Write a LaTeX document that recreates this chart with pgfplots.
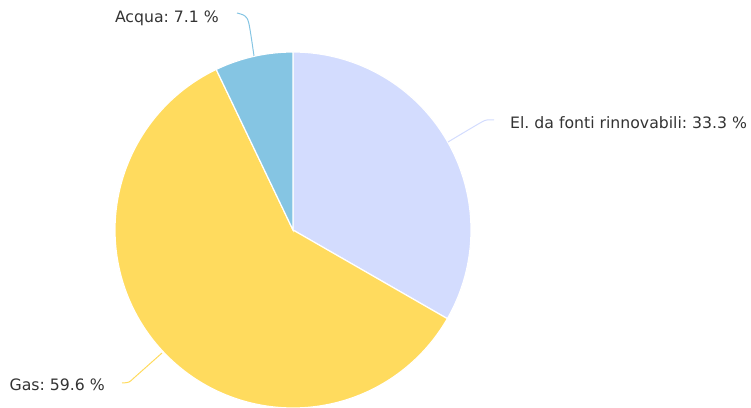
\documentclass[border=0pt]{standalone}
\usepackage{pgfplots}
\pgfplotsset{compat=1.18}
\usepackage{fontspec}
\setmainfont{DejaVu Sans}
\frenchspacing
\definecolor{cEl}{RGB}{211,220,254}
\definecolor{cGas}{RGB}{255,219,94}
\definecolor{cAcq}{RGB}{133,197,227}
\definecolor{txt}{RGB}{51,51,51}
% values (percent)
\def\vEl{33.3}
\def\vGas{59.6}
\def\vAcq{7.1}
\begin{document}
\begin{tikzpicture}
\pgfmathsetmacro{\aA}{0}
\pgfmathsetmacro{\aB}{\aA+3.6*\vEl}
\pgfmathsetmacro{\aC}{\aB+3.6*\vGas}
\pgfmathsetmacro{\aD}{\aC+3.6*\vAcq}
\begin{axis}[
  scale only axis, width=751bp, height=408bp,
  xmin=0, xmax=751, ymin=0, ymax=408,
  hide axis, clip=true,
]
\addplot[fill=cEl, draw=white, line width=1.2pt, domain=\aA:\aB, samples=100, variable=\t]
  ({293+178*sin(\t)},{178+178*cos(\t)}) -- (axis cs:293,178) -- cycle;
\addplot[fill=cGas, draw=white, line width=1.2pt, domain=\aB:\aC, samples=160, variable=\t]
  ({293+178*sin(\t)},{178+178*cos(\t)}) -- (axis cs:293,178) -- cycle;
\addplot[fill=cAcq, draw=white, line width=1.2pt, domain=\aC:\aD, samples=40, variable=\t]
  ({293+178*sin(\t)},{178+178*cos(\t)}) -- (axis cs:293,178) -- cycle;
% connectors
\addplot[cAcq, line width=1pt, smooth, tension=0.5] coordinates {(254,352) (249,384) (245,392) (237,395)};
\addplot[cEl, line width=1pt, smooth, tension=0.5] coordinates {(448,266) (480,285) (487,288) (494,288)};
\addplot[cGas, line width=1pt, smooth, tension=0.5] coordinates {(162,55) (135,31) (129,26) (122,25)};
% labels
\node[anchor=east, text=txt, font=\fontsize{15.7bp}{18bp}\selectfont, inner sep=0pt] at (axis cs:219,390) {Acqua: 7.1 \%};
\node[anchor=west, text=txt, font=\fontsize{15.7bp}{18bp}\selectfont, inner sep=0pt] at (axis cs:510,285) {El. da fonti rinnovabili: 33.3 \%};
\node[anchor=east, text=txt, font=\fontsize{15.7bp}{18bp}\selectfont, inner sep=0pt] at (axis cs:105,23) {Gas: 59.6 \%};
\end{axis}
\pgfresetboundingbox
\path[use as bounding box] (0,0) rectangle (751bp,408bp);
\end{tikzpicture}
\end{document}
